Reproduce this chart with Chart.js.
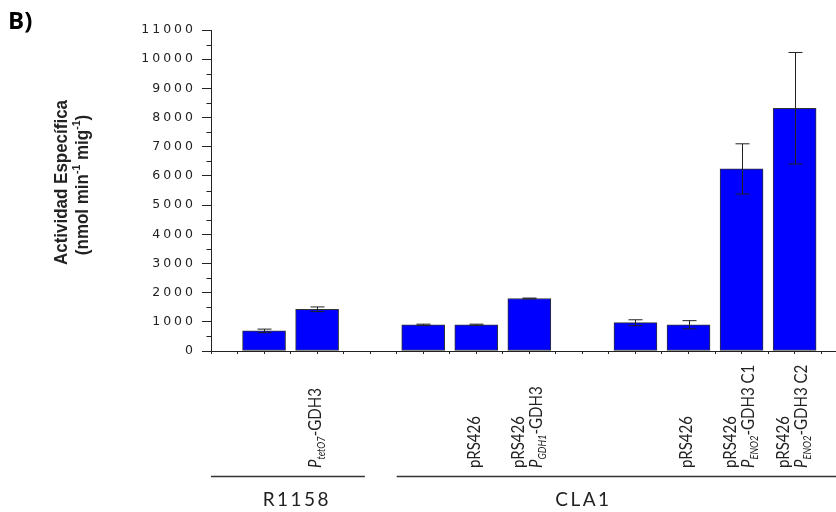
<!DOCTYPE html>
<html>
<head>
<meta charset="utf-8">
<script src="https://cdn.jsdelivr.net/npm/chart.js@4"></script>
<style>
    html, body { margin: 0; background: #fff; }
    #wrap { position: relative; width: 836px; height: 512px; }
</style>
</head>
<body>
<div id="wrap"><canvas id="chart"></canvas></div>
<script>
// posicion de cada barra en el eje x (los huecos separan grupos)
const slots = [1, 2, 4, 5, 6, 8, 9, 10, 11];
const actividad = [690, 1430, 900, 900, 1800, 970, 900, 6240, 8320];
const desviacion = [60, 80, 20, 20, 15, 100, 140, 860, 1910];
const etiquetas = [
    [],
    ['P_{tetO7}-GDH3'],
    [],
    ['pRS426'],
    ['pRS426', 'P_{GDH1}-GDH3'],
    [],
    ['pRS426'],
    ['pRS426', 'P_{ENO2}-GDH3 C1'],
    ['pRS426', 'P_{ENO2}-GDH3 C2']
];
const cepas = ['R1158', 'CLA1'];
const tituloY = ['Actividad Específica', '(nmol min^{-1} mig^{-1})'];
const yMax = 11000;
const yPaso = 1000;

const INK = '#222';

// separa texto normal, subindices (_{}) y superindices (^{})
function partes(str) {
    const out = [];
    const re = /([_^])\{([^}]*)\}/g;
    let last = 0, m;
    while ((m = re.exec(str))) {
        if (m.index > last) out.push({ t: str.slice(last, m.index) });
        if (m[1] === '_' && out.length) out[out.length - 1].it = true;
        out.push({ t: m[2], pos: m[1] === '_' ? 'sub' : 'sup', it: m[1] === '_' });
        last = re.lastIndex;
    }
    if (last < str.length) out.push({ t: str.slice(last) });
    return out;
}

function fuente(s, size, weight, family) {
    const px = s.pos ? size * 0.62 : size;
    return `${s.it ? 'italic ' : ''}${weight} ${px}px ${family}`;
}

function ancho(ctx, segs, size, weight, family) {
    let w = 0;
    for (const s of segs) {
        ctx.font = fuente(s, size, weight, family);
        w += ctx.measureText(s.t).width;
    }
    return w;
}

// texto girado 90 grados, se lee de abajo hacia arriba
function textoVertical(ctx, segs, x, y, size, weight, family, sx) {
    ctx.save();
    ctx.translate(x, y);
    ctx.rotate(-Math.PI / 2);
    ctx.scale(sx, 1);
    let cx = 0;
    for (const s of segs) {
        ctx.font = fuente(s, size, weight, family);
        const dy = s.pos === 'sub' ? size * 0.24 : s.pos === 'sup' ? -size * 0.45 : 0;
        ctx.fillText(s.t, cx, dy);
        cx += ctx.measureText(s.t).width;
    }
    ctx.restore();
}

const decoracion = {
    id: 'decoracion',
    beforeDraw(chart) {
        chart.ctx.letterSpacing = '3px';
    },
    afterDatasetsDraw(chart) {
        const ctx = chart.ctx;
        const y = chart.scales.y;
        const bars = chart.getDatasetMeta(0).data;
        ctx.save();
        ctx.strokeStyle = INK;
        ctx.lineWidth = 1;
        bars.forEach((bar, i) => {
            const x = Math.round(bar.x) + 0.5;
            const top = y.getPixelForValue(actividad[i] + desviacion[i]);
            const bot = y.getPixelForValue(actividad[i] - desviacion[i]);
            ctx.beginPath();
            ctx.moveTo(x, top); ctx.lineTo(x, bot);
            ctx.moveTo(x - 7, top); ctx.lineTo(x + 7, top);
            ctx.moveTo(x - 7, bot); ctx.lineTo(x + 7, bot);
            ctx.stroke();
        });
        ctx.restore();
    },
    afterDraw(chart) {
        const ctx = chart.ctx;
        const { x: xs, y: ys } = chart.scales;
        const area = chart.chartArea;
        ctx.save();
        ctx.letterSpacing = '0px';
        ctx.fillStyle = INK;
        ctx.strokeStyle = INK;

        // marcas menores del eje y
        ctx.lineWidth = 1;
        ctx.beginPath();
        for (let v = yPaso / 2; v < yMax; v += yPaso) {
            const py = Math.round(ys.getPixelForValue(v)) + 0.5;
            ctx.moveTo(area.left - 4.5, py);
            ctx.lineTo(area.left, py);
        }
        ctx.stroke();

        // etiquetas de cada barra
        ctx.textBaseline = 'alphabetic';
        ctx.textAlign = 'left';
        const famX = 'Lato, "Liberation Sans", sans-serif';
        const tamX = 17;
        const sxX = 52 / ancho(ctx, partes('pRS426'), tamX, 'normal', famX);
        etiquetas.forEach((lineas, i) => {
            const cx = xs.getPixelForValue(slots[i]);
            lineas.forEach((ln, j) => {
                const bx = cx + 3.5 + (j - (lineas.length - 1) / 2) * 18;
                textoVertical(ctx, partes(ln), bx, 468, tamX, 'normal', famX, sxX);
            });
        });

        // titulo del eje y
        const famT = '"Liberation Sans", Arial, sans-serif';
        const tamT = 18;
        const segs1 = partes(tituloY[0]);
        const segs2 = partes(tituloY[1]);
        const sxT = 165 / ancho(ctx, segs1, tamT, 'bold', famT);
        const w1 = ancho(ctx, segs1, tamT, 'bold', famT) * sxT;
        const w2 = ancho(ctx, segs2, tamT, 'bold', famT) * sxT;
        textoVertical(ctx, segs1, 67, 182.5 + w1 / 2, tamT, 'bold', famT, sxT);
        textoVertical(ctx, segs2, 88, 185 + w2 / 2, tamT, 'bold', famT, sxT);

        // lineas y nombres de cepa
        const tramos = [[0, 2.9], [3.5, xs.max]];
        const centros = [1.6, 7.0];
        ctx.lineWidth = 1.3;
        ctx.strokeStyle = '#333';
        cepas.forEach((nombre, i) => {
            const a = xs.getPixelForValue(tramos[i][0]);
            const b = xs.getPixelForValue(tramos[i][1]);
            ctx.beginPath();
            ctx.moveTo(a, 476.5);
            ctx.lineTo(b, 476.5);
            ctx.stroke();
            ctx.font = '19px Lato, "Open Sans", sans-serif';
            ctx.letterSpacing = '2.5px';
            ctx.textAlign = 'center';
            ctx.fillText(nombre, xs.getPixelForValue(centros[i]) + 1, 506);
            ctx.letterSpacing = '0px';
        });

        // letra del panel
        ctx.textAlign = 'left';
        ctx.font = 'bold 24px "Open Sans", sans-serif';
        ctx.fillStyle = '#000';
        ctx.fillText('B)', 8, 29);
        ctx.restore();
    }
};

new Chart(document.getElementById('chart'), {
    type: 'bar',
    data: {
        datasets: [{
            data: slots.map((s, i) => ({ x: s, y: actividad[i] })),
            backgroundColor: '#0000ff',
            borderColor: '#333',
            borderWidth: 1,
            borderSkipped: false,
            barThickness: 43
        }]
    },
    options: {
        responsive: true,
        maintainAspectRatio: false,
        animation: false,
        layout: { padding: { top: 30, left: 0, right: 0, bottom: 0 } },
        plugins: {
            legend: { display: false },
            tooltip: { enabled: false }
        },
        scales: {
            x: {
                type: 'linear',
                min: 0,
                max: 11.78,
                offset: false,
                grid: {
                    offset: false,
                    drawOnChartArea: false,
                    tickLength: 3,
                    tickColor: INK
                },
                border: { color: INK, width: 1 },
                ticks: { display: false, stepSize: 0.5, includeBounds: false },
                afterFit(scale) { scale.height = 161; }
            },
            y: {
                min: 0,
                max: yMax,
                grid: {
                    drawOnChartArea: false,
                    tickLength: 9,
                    tickColor: INK
                },
                border: { color: INK, width: 1 },
                ticks: {
                    stepSize: yPaso,
                    padding: 6,
                    color: INK,
                    font: { family: '"DejaVu Sans", sans-serif', size: 12.5 },
                    callback: (v) => String(v)
                },
                afterFit(scale) { scale.width = 211; }
            }
        }
    },
    plugins: [decoracion]
});
</script>
</body>
</html>
